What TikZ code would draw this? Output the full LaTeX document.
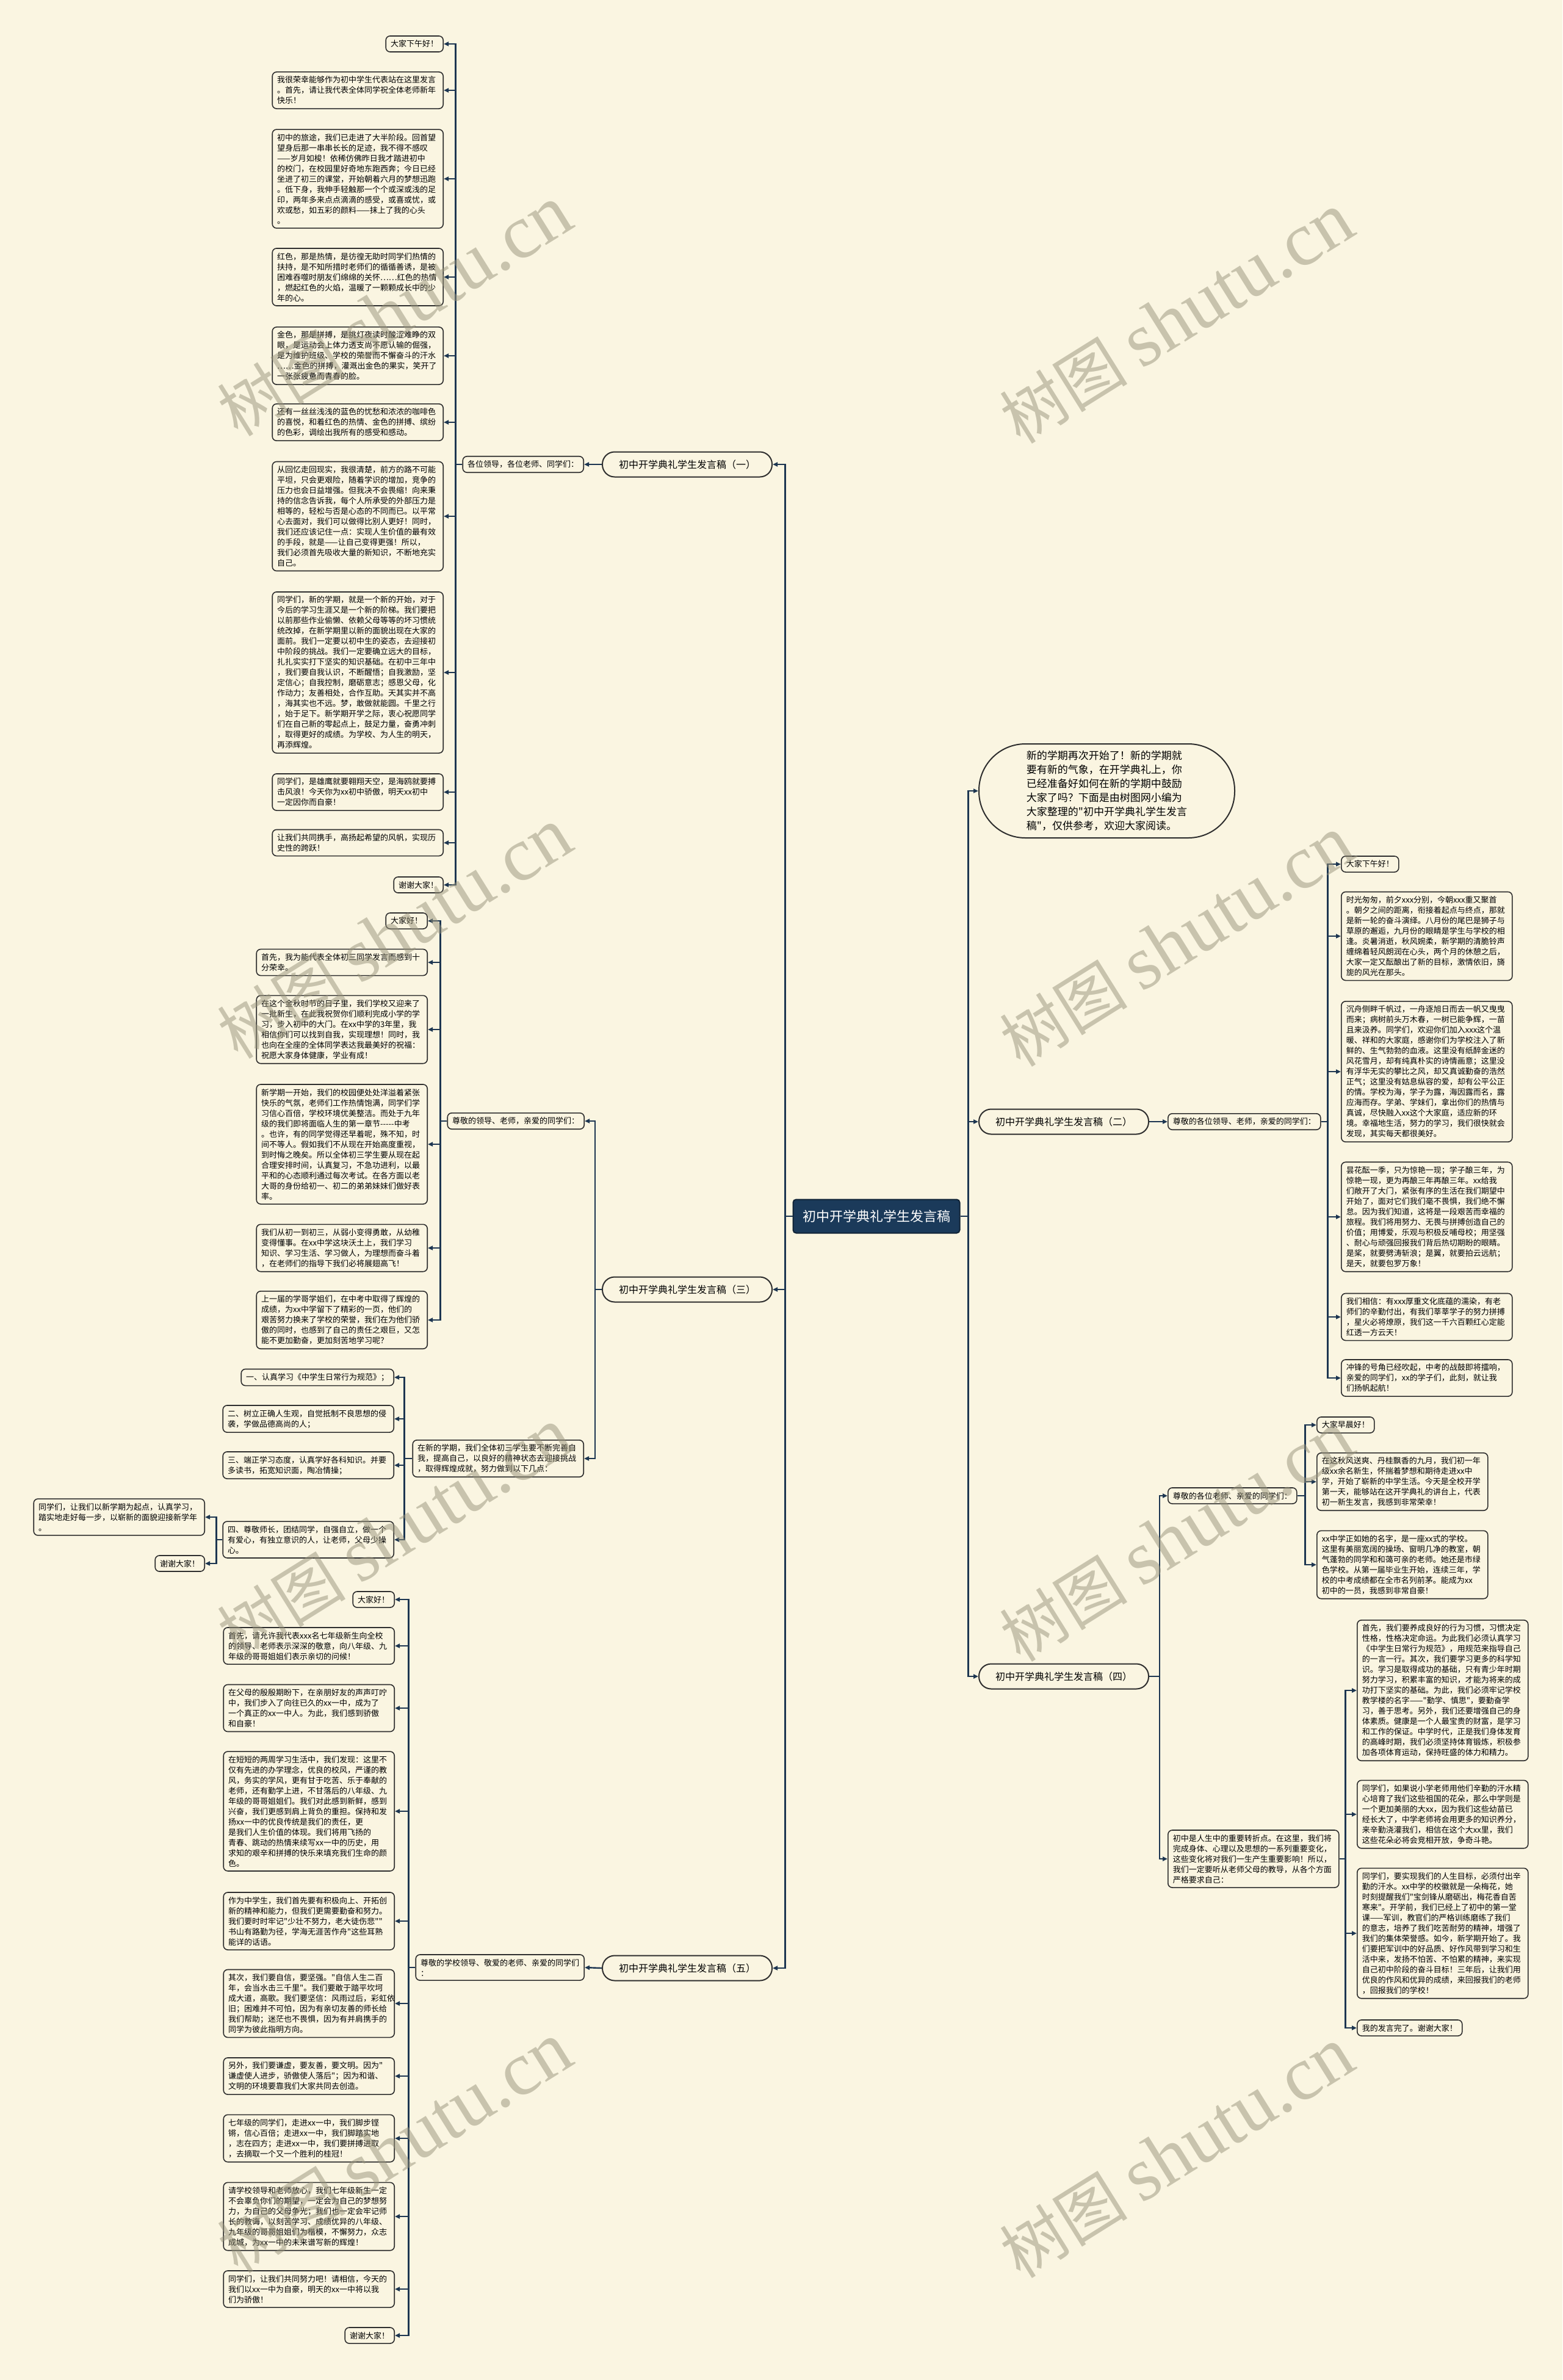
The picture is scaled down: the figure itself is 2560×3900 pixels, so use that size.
\documentclass[tikz,border=0pt]{standalone}
\usepackage{fontspec}
\usepackage{tikz}
\usetikzlibrary{arrows.meta, positioning}
\newfontfamily\cjk{Noto Sans CJK SC}
\newfontfamily\wmserif{Liberation Serif}
\definecolor{bg_cream}{HTML}{FAF5E1}
\definecolor{link_navy}{HTML}{1D3651}
\definecolor{box_edge}{HTML}{2E2E2E}
\definecolor{root_navy}{HTML}{1B3A5A}
\definecolor{wm_gray}{HTML}{97937A}
\tikzset{
    root_box/.style={
        rectangle, rounded corners=5pt, draw=root_navy!60!black, line width=2pt,
        fill=root_navy, text=white, minimum width=273pt, minimum height=55pt,
        font=\cjk\fontsize{22}{26}\selectfont
    },
    title_box/.style={
        rectangle, rounded corners=20pt, draw=box_edge, line width=2pt,
        fill=bg_cream, minimum width=278pt, minimum height=41pt,
        font=\cjk\fontsize{16}{20}\selectfont
    },
    intro_bubble/.style={
        rectangle, rounded corners=76pt, draw=box_edge, line width=2pt,
        fill=bg_cream, minimum width=419pt, minimum height=154pt, align=left,
        font=\cjk\fontsize{17}{23}\selectfont
    },
    tag_box/.style={
        rectangle, rounded corners=7pt, draw=box_edge, line width=1.6pt,
        fill=bg_cream, align=left, inner xsep=8pt, inner ysep=7pt,
        font=\cjk\fontsize{13}{17}\selectfont
    },
    text_box/.style={tag_box, text width=264pt},
    link/.style={
        draw=link_navy, line width=2.4pt, -{Triangle[length=8pt,width=7pt]}
    },
    water_mark/.style={
        text=wm_gray, text opacity=0.5, rotate=32,
        font=\cjk\fontsize{105}{110}\selectfont
    }
}
\begin{document}
\begin{tikzpicture}[x=1pt, y=-1pt]

    \fill[bg_cream] (0,0) rectangle (2560,3900);
    \useasboundingbox (0,0) rectangle (2560,3900);

    \node[root_box] (root) at (1436,1993) {初中开学典礼学生发言稿};

    % right side
    \node[intro_bubble, anchor=west] (intro) at (1603,1296) {新的学期再次开始了！新的学期就\\要有新的气象，在开学典礼上，你\\已经准备好如何在新的学期中鼓励\\大家了吗？下面是由树图网小编为\\大家整理的"初中开学典礼学生发言\\稿"，仅供参考，欢迎大家阅读。};
    \node[title_box, anchor=west] (talk_two) at (1603,1838) {初中开学典礼学生发言稿（二）};
    \node[title_box, anchor=west] (talk_four) at (1603,2747) {初中开学典礼学生发言稿（四）};

    \node[tag_box, anchor=west] (greet_two) at (1913,1838) {尊敬的各位领导、老师，亲爱的同学们：};
    \node[tag_box, anchor=west] (two_a) at (2197,1416) {大家下午好！};
    \node[text_box, anchor=west] (two_b) at (2197,1534) {时光匆匆，前夕xxx分别，今朝xxx重又聚首\\。朝夕之间的距离，衔接着起点与终点，那就\\是新一轮的奋斗演绎。八月份的尾巴是狮子与\\草原的邂逅，九月份的眼睛是学生与学校的相\\逢。炎暑消逝，秋风婉柔，新学期的清脆铃声\\缠绵着轻风朗润在心头，两个月的休憩之后，\\大家一定又酝酿出了新的目标，激情依旧，旖\\旎的风光在那头。};
    \node[text_box, anchor=west] (two_c) at (2197,1756) {沉舟侧畔千帆过，一舟逐旭日而去一帆又曳曳\\而来；病树前头万木春，一树已能争辉，一苗\\且来汲养。同学们，欢迎你们加入xxx这个温\\暖、祥和的大家庭，感谢你们为学校注入了新\\鲜的、生气勃勃的血液。这里没有纸醉金迷的\\风花雪月，却有纯真朴实的诗情画意；这里没\\有浮华无实的攀比之风，却又真诚勤奋的浩然\\正气；这里没有姑息纵容的爱，却有公平公正\\的情。学校为海，学子为露，海因露而名，露\\应海而存。学弟、学妹们，拿出你们的热情与\\真诚，尽快融入xx这个大家庭，适应新的环\\境。幸福地生活，努力的学习，我们很快就会\\发现，其实每天都很美好。};
    \node[text_box, anchor=west] (two_d) at (2197,1994) {昙花酝一季，只为惊艳一现；学子酿三年，为\\惊艳一现，更为再酿三年再酿三年。xx给我\\们敞开了大门，紧张有序的生活在我们期望中\\开始了，面对它们我们毫不畏惧，我们绝不懈\\怠。因为我们知道，这将是一段艰苦而幸福的\\旅程。我们将用努力、无畏与拼搏创造自己的\\价值；用博爱，乐观与积极反哺母校；用坚强\\、耐心与顽强回报我们背后热切期盼的眼睛。\\是桨，就要劈涛斩浪；是翼，就要拍云远航；\\是天，就要包罗万象！};
    \node[text_box, anchor=west] (two_e) at (2197,2158) {我们相信：有xxx厚重文化底蕴的濡染，有老\\师们的辛勤付出，有我们莘莘学子的努力拼搏\\，星火必将燎原，我们这一千六百颗红心定能\\红透一方云天！};
    \node[text_box, anchor=west] (two_f) at (2197,2258) {冲锋的号角已经吹起，中考的战鼓即将擂响，\\亲爱的同学们，xx的学子们，此刻，就让我\\们扬帆起航！};

    \node[tag_box, anchor=west] (greet_four) at (1913,2451) {尊敬的各位老师、亲爱的同学们：};
    \node[text_box, anchor=west] (speak_four) at (1913,3046) {初中是人生中的重要转折点。在这里，我们将\\完成身体、心理以及思想的一系列重要变化，\\这些变化将对我们一生产生重要影响！所以，\\我们一定要听从老师父母的教导，从各个方面\\严格要求自己：};
    \node[tag_box, anchor=west] (four_a) at (2157,2335) {大家早晨好！};
    \node[text_box, anchor=west] (four_b) at (2157,2428) {在这秋风送爽、丹桂飘香的九月，我们初一年\\级xx余名新生，怀揣着梦想和期待走进xx中\\学，开始了崭新的中学生活。今天是全校开学\\第一天，能够站在这开学典礼的讲台上，代表\\初一新生发言，我感到非常荣幸！};
    \node[text_box, anchor=west] (four_c) at (2157,2564) {xx中学正如她的名字，是一座xx式的学校。\\这里有美丽宽阔的操场、窗明几净的教室，朝\\气蓬勃的同学和和蔼可亲的老师。她还是市绿\\色学校。从第一届毕业生开始，连续三年，学\\校的中考成绩都在全市名列前茅。能成为xx\\初中的一员，我感到非常自豪！};
    \node[text_box, anchor=west] (four_d) at (2223,2770) {首先，我们要养成良好的行为习惯，习惯决定\\性格，性格决定命运。为此我们必须认真学习\\《中学生日常行为规范》，用规范来指导自己\\的一言一行。其次，我们要学习更多的科学知\\识。学习是取得成功的基础，只有青少年时期\\努力学习，积累丰富的知识，才能为将来的成\\功打下坚实的基础。为此，我们必须牢记学校\\教学楼的名字——"勤学、慎思"，要勤奋学\\习，善于思考。另外，我们还要增强自己的身\\体素质。健康是一个人最宝贵的财富，是学习\\和工作的保证。中学时代，正是我们身体发育\\的高峰时期，我们必须坚持体育锻炼，积极参\\加各项体育运动，保持旺盛的体力和精力。};
    \node[text_box, anchor=west] (four_e) at (2223,2973) {同学们，如果说小学老师用他们辛勤的汗水精\\心培育了我们这些祖国的花朵，那么中学则是\\一个更加美丽的大xx，因为我们这些幼苗已\\经长大了，中学老师将会用更多的知识养分，\\来辛勤浇灌我们，相信在这个大xx里，我们\\这些花朵必将会竞相开放，争奇斗艳。};
    \node[text_box, anchor=west] (four_f) at (2223,3168) {同学们，要实现我们的人生目标，必须付出辛\\勤的汗水。xx中学的校徽就是一朵梅花，她\\时刻提醒我们"宝剑锋从磨砺出，梅花香自苦\\寒来"。开学前，我们已经上了初中的第一堂\\课——军训，教官们的严格训练磨练了我们\\的意志，培养了我们吃苦耐劳的精神，增强了\\我们的集体荣誉感。如今，新学期开始了。我\\们要把军训中的好品质、好作风带到学习和生\\活中来，发扬不怕苦、不怕累的精神，来实现\\自己初中阶段的奋斗目标！三年后，让我们用\\优良的作风和优异的成绩，来回报我们的老师\\，回报我们的学校！};
    \node[tag_box, anchor=west] (four_g) at (2223,3323) {我的发言完了。谢谢大家！};

    % left side
    \node[title_box, anchor=east] (talk_one) at (1266,761) {初中开学典礼学生发言稿（一）};
    \node[title_box, anchor=east] (talk_three) at (1266,2113) {初中开学典礼学生发言稿（三）};
    \node[title_box, anchor=east] (talk_five) at (1266,3225) {初中开学典礼学生发言稿（五）};

    \node[tag_box, anchor=east] (greet_one) at (957,761) {各位领导，各位老师、同学们：};
    \node[tag_box, anchor=east] (one_a) at (727,72) {大家下午好！};
    \node[text_box, anchor=east] (one_b) at (727,148) {我很荣幸能够作为初中学生代表站在这里发言\\。首先，请让我代表全体同学祝全体老师新年\\快乐！};
    \node[text_box, anchor=east] (one_c) at (727,293) {初中的旅途，我们已走进了大半阶段。回首望\\望身后那一串串长长的足迹，我不得不感叹\\——岁月如梭！依稀仿佛昨日我才踏进初中\\的校门，在校园里好奇地东跑西奔；今日已经\\坐进了初三的课堂，开始朝着六月的梦想迅跑\\。低下身，我伸手轻触那一个个或深或浅的足\\印，两年多来点点滴滴的感受，或喜或忧，或\\欢或愁，如五彩的颜料——抹上了我的心头\\。};
    \node[text_box, anchor=east] (one_d) at (727,454) {红色，那是热情，是彷徨无助时同学们热情的\\扶持，是不知所措时老师们的循循善诱，是被\\困难吞噬时朋友们绵绵的关怀……红色的热情\\，燃起红色的火焰，温暖了一颗颗成长中的少\\年的心。};
    \node[text_box, anchor=east] (one_e) at (727,583) {金色，那是拼搏，是挑灯夜读时酸涩难睁的双\\眼，是运动会上体力透支尚不愿认输的倔强，\\是为维护班级、学校的荣誉而不懈奋斗的汗水\\……金色的拼搏，灌溉出金色的果实，笑开了\\一张张疲惫而青春的脸。};
    \node[text_box, anchor=east] (one_f) at (727,692) {还有一丝丝浅浅的蓝色的忧愁和浓浓的咖啡色\\的喜悦，和着红色的热情、金色的拼搏、缤纷\\的色彩，调绘出我所有的感受和感动。};
    \node[text_box, anchor=east] (one_g) at (727,846) {从回忆走回现实，我很清楚，前方的路不可能\\平坦，只会更艰险，随着学识的增加，竞争的\\压力也会日益增强。但我决不会畏缩！向来秉\\持的信念告诉我，每个人所承受的外部压力是\\相等的，轻松与否是心态的不同而已。以平常\\心去面对，我们可以做得比别人更好！同时，\\我们还应该记住一点：实现人生价值的最有效\\的手段，就是——让自己变得更强！所以，\\我们必须首先吸收大量的新知识，不断地充实\\自己。};
    \node[text_box, anchor=east] (one_h) at (727,1102) {同学们，新的学期，就是一个新的开始，对于\\今后的学习生涯又是一个新的阶梯。我们要把\\以前那些作业偷懒、依赖父母等等的坏习惯统\\统改掉，在新学期里以新的面貌出现在大家的\\面前。我们一定要以初中生的姿态，去迎接初\\中阶段的挑战。我们一定要确立远大的目标，\\扎扎实实打下坚实的知识基础。在初中三年中\\，我们要自我认识，不断醒悟；自我激励，坚\\定信心；自我控制，磨砺意志；感恩父母，化\\作动力；友善相处，合作互助。天其实并不高\\，海其实也不远。梦，敢做就能圆。千里之行\\，始于足下。新学期开学之际，衷心祝愿同学\\们在自己新的零起点上，鼓足力量，奋勇冲刺\\，取得更好的成绩。为学校、为人生的明天，\\再添辉煌。};
    \node[text_box, anchor=east] (one_i) at (727,1298) {同学们，是雄鹰就要翱翔天空，是海鸥就要搏\\击风浪！今天你为xx初中骄傲，明天xx初中\\一定因你而自豪！};
    \node[text_box, anchor=east] (one_j) at (727,1381) {让我们共同携手，高扬起希望的风帆，实现历\\史性的跨跃！};
    \node[tag_box, anchor=east] (one_k) at (727,1450) {谢谢大家！};

    \node[tag_box, anchor=east] (greet_three) at (958,1837) {尊敬的领导、老师，亲爱的同学们：};
    \node[text_box, anchor=east] (plan_three) at (957,2390) {在新的学期，我们全体初三学生要不断完善自\\我，提高自己，以良好的精神状态去迎接挑战\\，取得辉煌成就，努力做到以下几点：};
    \node[tag_box, anchor=east] (three_a) at (701,1509) {大家好！};
    \node[text_box, anchor=east] (three_b) at (701,1577) {首先，我为能代表全体初三同学发言而感到十\\分荣幸。};
    \node[text_box, anchor=east] (three_c) at (701,1687) {在这个金秋时节的日子里，我们学校又迎来了\\一批新生，在此我祝贺你们顺利完成小学的学\\习，步入初中的大门。在xx中学的3年里，我\\相信你们可以找到自我，实现理想！同时，我\\也向在全座的全体同学表达我最美好的祝福：\\祝愿大家身体健康，学业有成！};
    \node[text_box, anchor=east] (three_d) at (701,1875) {新学期一开始，我们的校园便处处洋溢着紧张\\快乐的气氛，老师们工作热情饱满，同学们学\\习信心百倍，学校环境优美整洁。而处于九年\\级的我们即将面临人生的第一章节{-}{-}{-}{-}{-}中考\\。也许，有的同学觉得还早着呢，殊不知，时\\间不等人。假如我们不从现在开始高度重视，\\到时悔之晚矣。所以全体初三学生要从现在起\\合理安排时间，认真复习，不急功进利，以最\\平和的心态顺利通过每次考试。在各方面以老\\大哥的身份给初一、初二的弟弟妹妹们做好表\\率。};
    \node[text_box, anchor=east] (three_e) at (701,2045) {我们从初一到初三，从弱小变得勇敢，从幼稚\\变得懂事。在xx中学这块沃土上，我们学习\\知识、学习生活、学习做人，为理想而奋斗着\\，在老师们的指导下我们必将展翅高飞！};
    \node[text_box, anchor=east] (three_f) at (701,2163) {上一届的学哥学姐们，在中考中取得了辉煌的\\成绩，为xx中学留下了精彩的一页，他们的\\艰苦努力换来了学校的荣誉，我们在为他们骄\\傲的同时，也感到了自己的责任之艰巨，又怎\\能不更加勤奋，更加刻苦地学习呢？};
    \node[tag_box, anchor=east] (rule_a) at (646,2257) {一、认真学习《中学生日常行为规范》；};
    \node[text_box, anchor=east] (rule_b) at (646,2325) {二、树立正确人生观，自觉抵制不良思想的侵\\袭，学做品德高尚的人；};
    \node[text_box, anchor=east] (rule_c) at (646,2401) {三、端正学习态度，认真学好各科知识。并要\\多读书，拓宽知识面，陶冶情操；};
    \node[text_box, anchor=east] (rule_d) at (646,2523) {四、尊敬师长，团结同学，自强自立，做一个\\有爱心，有独立意识的人，让老师，父母少操\\心。};
    \node[text_box, anchor=east] (close_a) at (336,2486) {同学们，让我们以新学期为起点，认真学习，\\踏实地走好每一步，以崭新的面貌迎接新学年\\。};
    \node[tag_box, anchor=east] (close_b) at (336,2562) {谢谢大家！};

    \node[tag_box, anchor=east] (greet_five) at (958,3224) {尊敬的学校领导、敬爱的老师、亲爱的同学们\\：};
    \node[tag_box, anchor=east] (five_a) at (647,2621) {大家好！};
    \node[text_box, anchor=east] (five_b) at (647,2697) {首先，请允许我代表xxx名七年级新生向全校\\的领导、老师表示深深的敬意，向八年级、九\\年级的哥哥姐姐们表示亲切的问候！};
    \node[text_box, anchor=east] (five_c) at (647,2799) {在父母的殷殷期盼下，在亲朋好友的声声叮咛\\中，我们步入了向往已久的xx一中，成为了\\一个真正的xx一中人。为此，我们感到骄傲\\和自豪！};
    \node[text_box, anchor=east] (five_d) at (647,2968) {在短短的两周学习生活中，我们发现：这里不\\仅有先进的办学理念，优良的校风，严谨的教\\风，务实的学风，更有甘于吃苦、乐于奉献的\\老师，还有勤学上进，不甘落后的八年级、九\\年级的哥哥姐姐们。我们对此感到新鲜，感到\\兴奋，我们更感到肩上背负的重担。保持和发\\扬xx一中的优良传统是我们的责任，更\\是我们人生价值的体现。我们将用飞扬的\\青春、跳动的热情来续写xx一中的历史，用\\求知的艰辛和拼搏的快乐来填充我们生命的颜\\色。};
    \node[text_box, anchor=east] (five_e) at (647,3148) {作为中学生，我们首先要有积极向上、开拓创\\新的精神和能力，但我们更需要勤奋和努力。\\我们要时时牢记"少壮不努力，老大徒伤悲""\\书山有路勤为径，学海无涯苦作舟"这些耳熟\\能详的话语。};
    \node[text_box, anchor=east] (five_f) at (647,3283) {其次，我们要自信，要坚强。"自信人生二百\\年，会当水击三千里"。我们要敢于踏平坎坷\\成大道，高歌。我们要坚信：风雨过后，彩虹依\\旧；困难并不可怕，因为有亲切友善的师长给\\我们帮助；迷茫也不畏惧，因为有并肩携手的\\同学为彼此指明方向。};
    \node[text_box, anchor=east] (five_g) at (647,3402) {另外，我们要谦虚，要友善，要文明。因为"\\谦虚使人进步，骄傲使人落后"；因为和谐、\\文明的环境要靠我们大家共同去创造。};
    \node[text_box, anchor=east] (five_h) at (647,3504) {七年级的同学们，走进xx一中，我们脚步铿\\锵，信心百倍；走进xx一中，我们脚踏实地\\，志在四方；走进xx一中，我们要拼搏进取\\，去摘取一个又一个胜利的桂冠！};
    \node[text_box, anchor=east] (five_i) at (647,3632) {请学校领导和老师放心，我们七年级新生一定\\不会辜负你们的期望，一定会为自己的梦想努\\力，为自己的父母争光；我们也一定会牢记师\\长的教诲，以刻苦学习、成绩优异的八年级、\\九年级的哥哥姐姐们为楷模，不懈努力，众志\\成城，为xx一中的未来谱写新的辉煌！};
    \node[text_box, anchor=east] (five_j) at (647,3751) {同学们，让我们共同努力吧！请相信，今天的\\我们以xx一中为自豪，明天的xx一中将以我\\们为骄傲！};
    \node[tag_box, anchor=east] (five_k) at (647,3827) {谢谢大家！};

    % connectors, right side
    \draw[link] (root.east) -- ++(13,0) |- (intro.west);
    \draw[link] (root.east) -- ++(13,0) |- (talk_two.west);
    \draw[link] (root.east) -- ++(13,0) |- (talk_four.west);
    \draw[link] (talk_two.east) -- (greet_two.west);
    \draw[link] (greet_two.east) -- ++(11,0) |- (two_a.west);
    \draw[link] (greet_two.east) -- ++(11,0) |- (two_b.west);
    \draw[link] (greet_two.east) -- ++(11,0) |- (two_c.west);
    \draw[link] (greet_two.east) -- ++(11,0) |- (two_d.west);
    \draw[link] (greet_two.east) -- ++(11,0) |- (two_e.west);
    \draw[link] (greet_two.east) -- ++(11,0) |- (two_f.west);
    \draw[link] (talk_four.east) -- ++(17,0) |- (greet_four.west);
    \draw[link] (talk_four.east) -- ++(17,0) |- (speak_four.west);
    \draw[link] (greet_four.east) -- ++(13,0) |- (four_a.west);
    \draw[link] (greet_four.east) -- ++(13,0) |- (four_b.west);
    \draw[link] (greet_four.east) -- ++(13,0) |- (four_c.west);
    \draw[link] (speak_four.east) -- ++(10,0) |- (four_d.west);
    \draw[link] (speak_four.east) -- ++(10,0) |- (four_e.west);
    \draw[link] (speak_four.east) -- ++(10,0) |- (four_f.west);
    \draw[link] (speak_four.east) -- ++(10,0) |- (four_g.west);

    % connectors, left side
    \draw[link] (root.west) -- ++(-12,0) |- (talk_one.east);
    \draw[link] (root.west) -- ++(-12,0) |- (talk_three.east);
    \draw[link] (root.west) -- ++(-12,0) |- (talk_five.east);
    \draw[link] (talk_one.west) -- (greet_one.east);
    \draw[link] (greet_one.west) -- ++(-11,0) |- (one_a.east);
    \draw[link] (greet_one.west) -- ++(-11,0) |- (one_b.east);
    \draw[link] (greet_one.west) -- ++(-11,0) |- (one_c.east);
    \draw[link] (greet_one.west) -- ++(-11,0) |- (one_d.east);
    \draw[link] (greet_one.west) -- ++(-11,0) |- (one_e.east);
    \draw[link] (greet_one.west) -- ++(-11,0) |- (one_f.east);
    \draw[link] (greet_one.west) -- ++(-11,0) |- (one_g.east);
    \draw[link] (greet_one.west) -- ++(-11,0) |- (one_h.east);
    \draw[link] (greet_one.west) -- ++(-11,0) |- (one_i.east);
    \draw[link] (greet_one.west) -- ++(-11,0) |- (one_j.east);
    \draw[link] (greet_one.west) -- ++(-11,0) |- (one_k.east);
    \draw[link] (talk_three.west) -- ++(-11,0) |- (greet_three.east);
    \draw[link] (talk_three.west) -- ++(-11,0) |- (plan_three.east);
    \draw[link] (greet_three.west) -- ++(-11,0) |- (three_a.east);
    \draw[link] (greet_three.west) -- ++(-11,0) |- (three_b.east);
    \draw[link] (greet_three.west) -- ++(-11,0) |- (three_c.east);
    \draw[link] (greet_three.west) -- ++(-11,0) |- (three_d.east);
    \draw[link] (greet_three.west) -- ++(-11,0) |- (three_e.east);
    \draw[link] (greet_three.west) -- ++(-11,0) |- (three_f.east);
    \draw[link] (plan_three.west) -- ++(-13,0) |- (rule_a.east);
    \draw[link] (plan_three.west) -- ++(-13,0) |- (rule_b.east);
    \draw[link] (plan_three.west) -- ++(-13,0) |- (rule_c.east);
    \draw[link] (plan_three.west) -- ++(-13,0) |- (rule_d.east);
    \draw[link] (rule_d.west) -- ++(-10,0) |- (close_a.east);
    \draw[link] (rule_d.west) -- ++(-10,0) |- (close_b.east);
    \draw[link] (talk_five.west) -- (greet_five.east);
    \draw[link] (greet_five.west) -- ++(-11,0) |- (five_a.east);
    \draw[link] (greet_five.west) -- ++(-11,0) |- (five_b.east);
    \draw[link] (greet_five.west) -- ++(-11,0) |- (five_c.east);
    \draw[link] (greet_five.west) -- ++(-11,0) |- (five_d.east);
    \draw[link] (greet_five.west) -- ++(-11,0) |- (five_e.east);
    \draw[link] (greet_five.west) -- ++(-11,0) |- (five_f.east);
    \draw[link] (greet_five.west) -- ++(-11,0) |- (five_g.east);
    \draw[link] (greet_five.west) -- ++(-11,0) |- (five_h.east);
    \draw[link] (greet_five.west) -- ++(-11,0) |- (five_i.east);
    \draw[link] (greet_five.west) -- ++(-11,0) |- (five_j.east);
    \draw[link] (greet_five.west) -- ++(-11,0) |- (five_k.east);

    % watermarks
    \foreach \wx/\wy in {647/510, 1928/522, 647/1530, 1928/1543, 647/2513, 1928/2518, 647/3520, 1928/3528}
        \node[water_mark] at (\wx,\wy) {树图 {\wmserif\fontsize{125}{130}\selectfont shutu.cn}};

\end{tikzpicture}
\end{document}
